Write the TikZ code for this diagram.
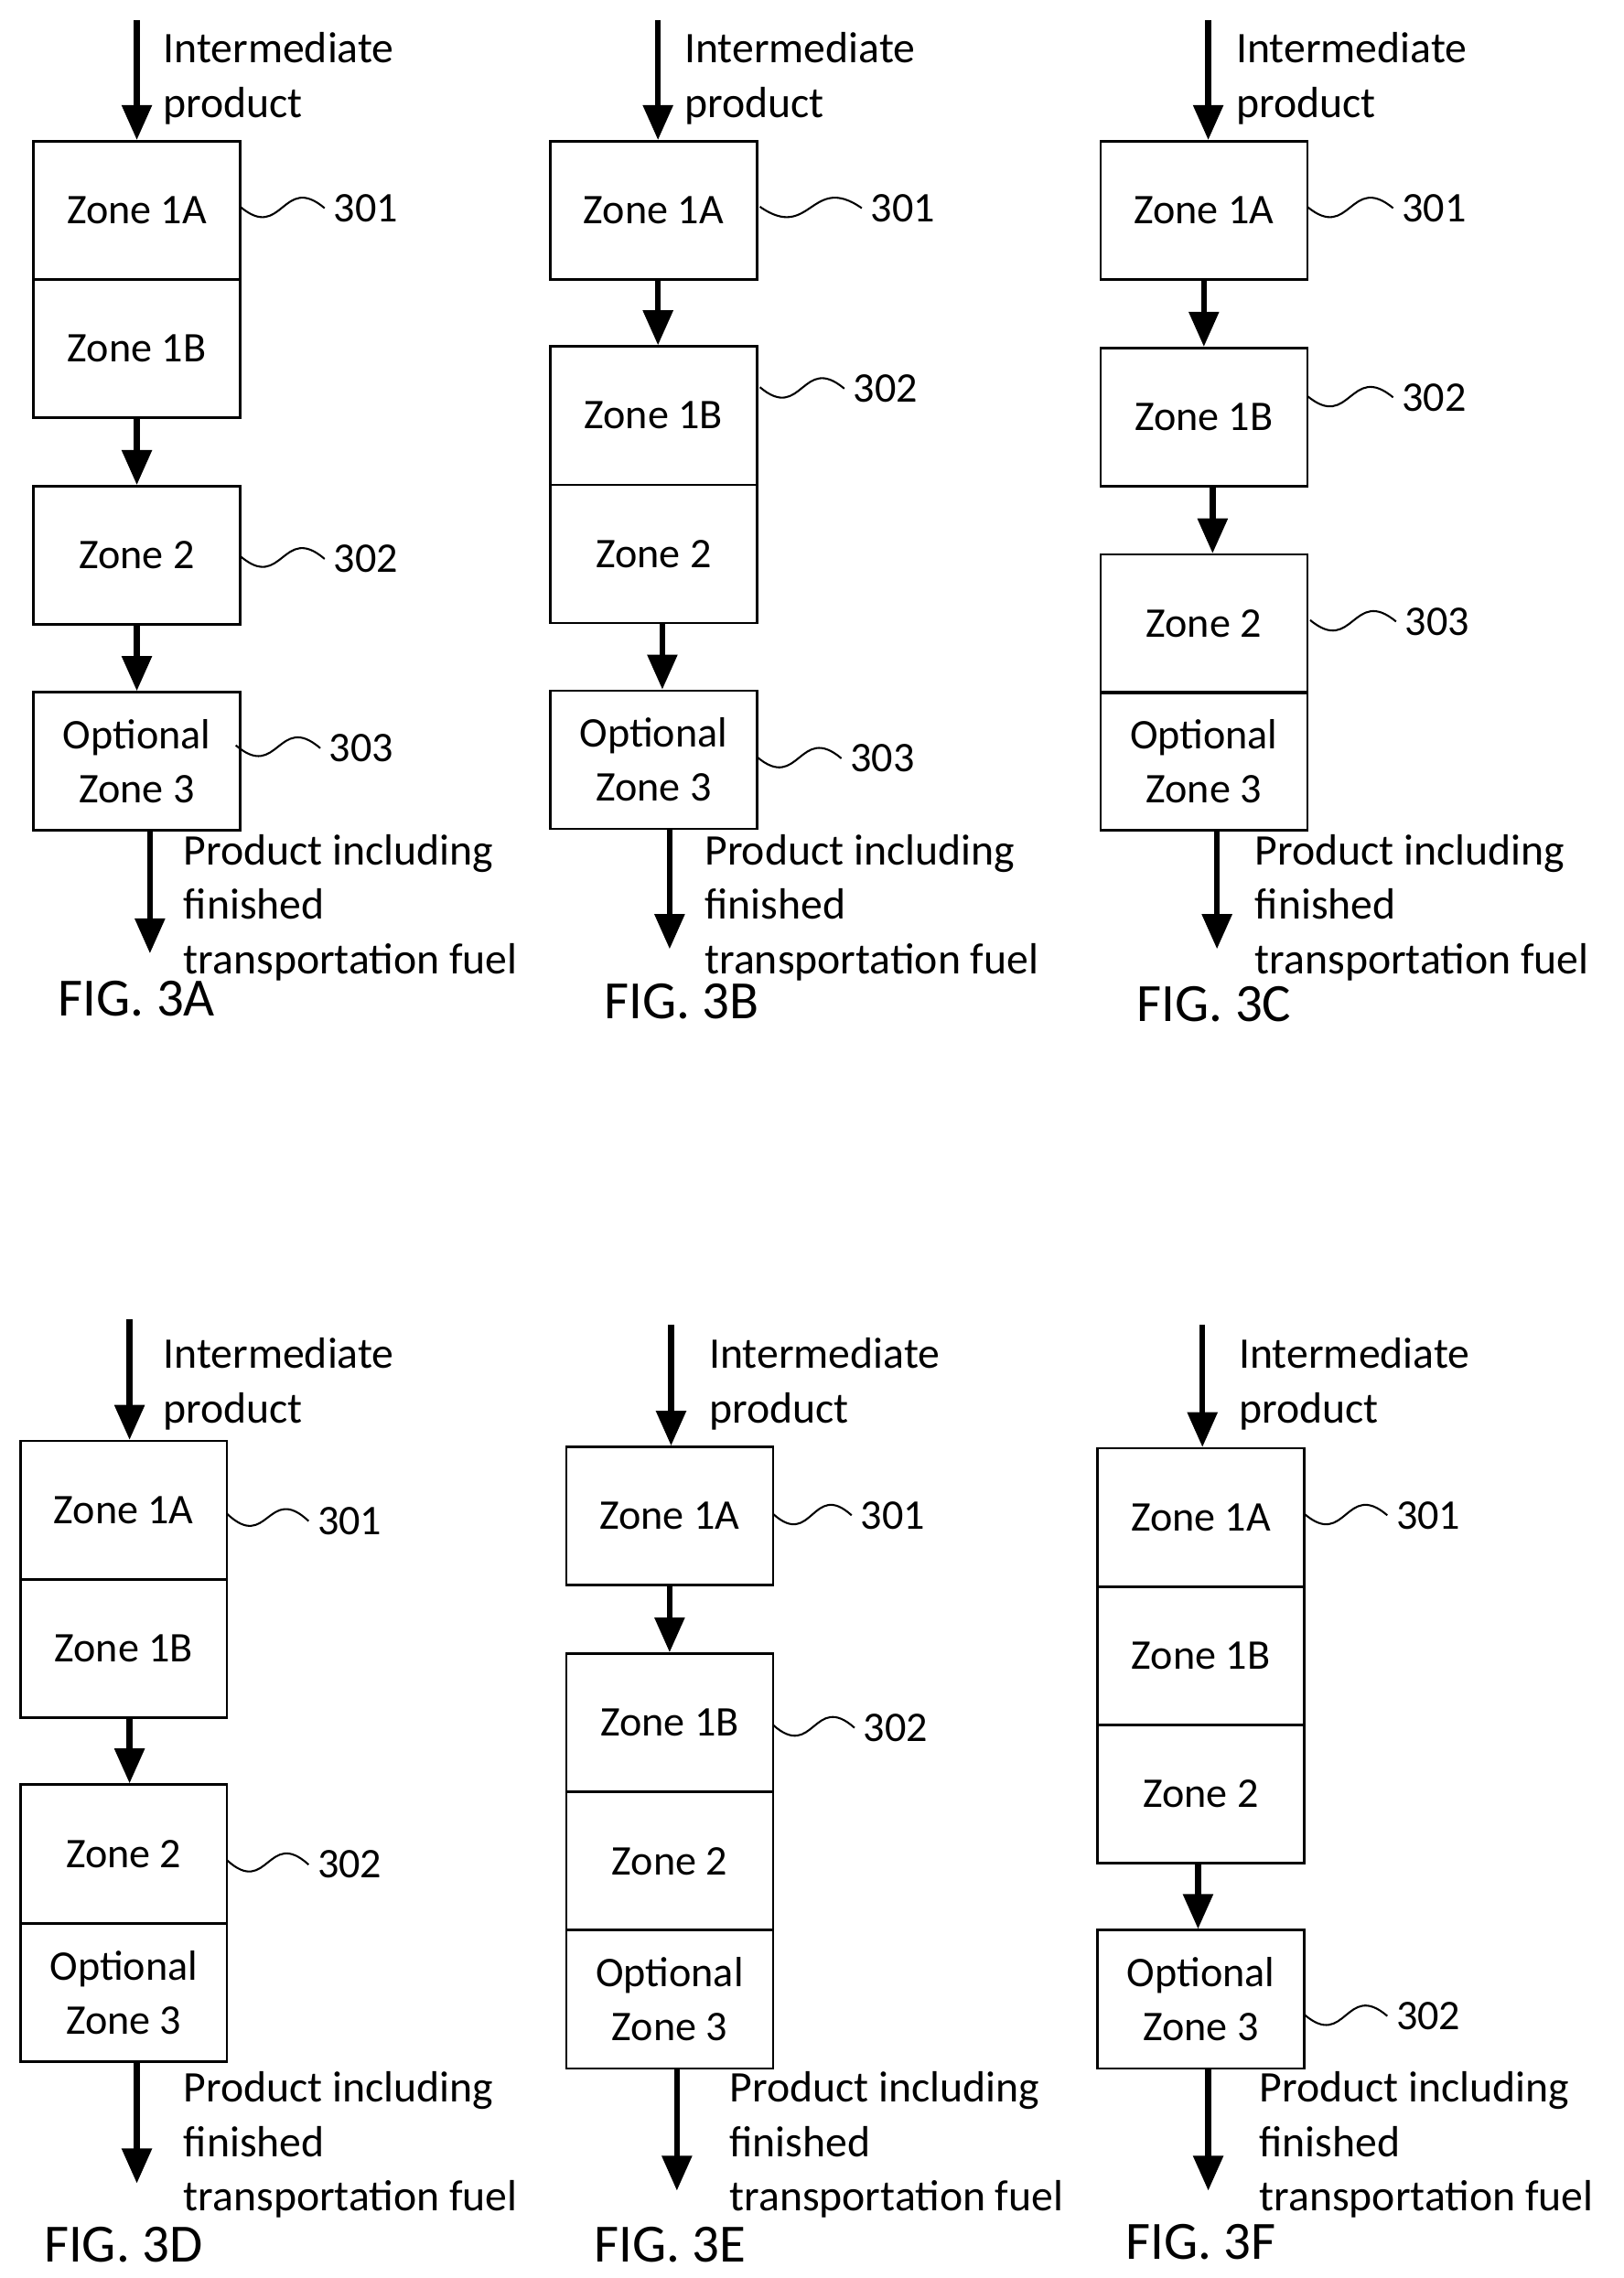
\documentclass[tikz,border=0pt]{standalone}
\usepackage{fontspec}
\setmainfont{Carlito}
\usetikzlibrary{arrows.meta,calc}
\begin{document}
\begin{tikzpicture}[x=1pt,y=-1pt,
 box/.style={draw,line width=1.6pt,minimum width=142pt,minimum height=95pt,inner sep=0pt,font=\fontsize{29}{37}\selectfont,align=center},
 flow/.style={line width=4pt,-{Triangle[length=24pt,width=20pt]}},
 txt/.style={anchor=base west,inner sep=0pt,font=\fontsize{30}{36}\selectfont},
 fig/.style={anchor=base west,inner sep=0pt,font=\fontsize{37}{44}\selectfont},
 lab/.style={anchor=west,inner sep=0pt,font=\fontsize{29}{34}\selectfont},
 wv/.style={line width=1.3pt}]
\useasboundingbox (0,0) rectangle (1115,1565);
\newcommand\wave[2]{\draw[wv] (#1) .. controls ($(#1)!0.5!([xshift=-6pt]#2.west)+(0,24)$) and ($(#1)!0.5!([xshift=-6pt]#2.west)+(0,-24)$) .. ([xshift=-6pt]#2.west);}
\newcommand\intext[3]{\node[txt] (#1a) at (#2,#3) {Intermediate};\node[txt] (#1b) at (#2,#3+37.5) {product};}
\newcommand\outtext[3]{\node[txt] (#1c) at (#2,#3) {Product including};\node[txt] (#1d) at (#2,#3+37.5) {finished};\node[txt] (#1e) at (#2,#3+75) {transportation fuel};}
% 3A
\coordinate (a0) at (94,14); \coordinate (a9) at (103,655);
\node[box] (a1) at (94,144.5) {Zone 1A};
\node[box] (a2) at (94,239.5) {Zone 1B};
\node[box] (a3) at (94,381.5) {Zone 2};
\node[box] (a4) at (94,523) {Optional\\Zone 3};
\draw[flow] (a0) -- (a1.north);
\draw[flow] (a2.south) -- (a3.north);
\draw[flow] (a3.south) -- (a4.north);
\draw[flow] (a4.south -| a9) -- (a9);
\intext{a}{112}{43}\outtext{a}{126}{594}
\node[fig] (af) at (40,698) {FIG. 3A};
\node[lab] (al1) at (229,143) {301};\node[lab] (al2) at (229,384) {302};\node[lab] (al3) at (226,514) {303};
\wave{165,142}{al1}\wave{165,382}{al2}\wave{162,512}{al3}
% 3B
\coordinate (b0) at (452,14); \coordinate (b9) at (460,652);
\node[box] (b1) at (449,144.5) {Zone 1A};
\node[box] (b2) at (449,285.5) {Zone 1B};
\node[box] (b3) at (449,380.5) {Zone 2};
\node[box] (b4) at (449,522) {Optional\\Zone 3};
\draw[flow] (b0) -- (b1.north -| b0);
\draw[flow] (b1.south -| b0) -- (b2.north -| b0);
\draw[flow] ([xshift=6pt]b3.south) -- ([xshift=6pt]b4.north);
\draw[flow] (b4.south -| b9) -- (b9);
\intext{b}{470}{43}\outtext{b}{484}{594}
\node[fig] (bf) at (415,700) {FIG. 3B};
\node[lab] (bl1) at (598,143) {301};\node[lab] (bl2) at (586,267) {302};\node[lab] (bl3) at (584,521) {303};
\wave{522,142}{bl1}\wave{522,266}{bl2}\wave{520,520}{bl3}
% 3C
\coordinate (c0) at (830,14); \coordinate (c9) at (836,652);
\node[box] (c1) at (827,144.5) {Zone 1A};
\node[box] (c2) at (827,286.5) {Zone 1B};
\node[box] (c3) at (827,428.5) {Zone 2};
\node[box] (c4) at (827,523) {Optional\\Zone 3};
\draw[flow] (c0) -- (c1.north -| c0);
\draw[flow] (c1.south) -- (c2.north);
\draw[flow] ([xshift=6pt]c2.south) -- ([xshift=6pt]c3.north);
\draw[flow] (c4.south -| c9) -- (c9);
\intext{c}{849}{43}\outtext{c}{862}{594}
\node[fig] (cf) at (781,702) {FIG. 3C};
\node[lab] (cl1) at (963,143) {301};\node[lab] (cl2) at (963,273) {302};\node[lab] (cl3) at (965,427) {303};
\wave{898,142}{cl1}\wave{898,272}{cl2}\wave{900,426}{cl3}
% 3D
\coordinate (d0) at (89,906); \coordinate (d9) at (94,1500);
\node[box] (d1) at (85,1037.5) {Zone 1A};
\node[box] (d2) at (85,1132.5) {Zone 1B};
\node[box] (d3) at (85,1273.5) {Zone 2};
\node[box] (d4) at (85,1369) {Optional\\Zone 3};
\draw[flow] (d0) -- (d1.north -| d0);
\draw[flow] (d2.south -| d0) -- (d3.north -| d0);
\draw[flow] (d4.south -| d9) -- (d9);
\intext{d}{112}{940}\outtext{d}{126}{1444}
\node[fig] (df) at (30,1554) {FIG. 3D};
\node[lab] (dl1) at (218,1045) {301};\node[lab] (dl2) at (218,1281) {302};
\wave{156,1040}{dl1}\wave{156,1278}{dl2}
% 3E
\coordinate (e0) at (461,910); \coordinate (e9) at (465,1505);
\node[box] (e1) at (460,1041.5) {Zone 1A};
\node[box] (e2) at (460,1183.5) {Zone 1B};
\node[box] (e3) at (460,1278.5) {Zone 2};
\node[box] (e4) at (460,1373.5) {Optional\\Zone 3};
\draw[flow] (e0) -- (e1.north -| e0);
\draw[flow] (e1.south) -- (e2.north);
\draw[flow] (e4.south -| e9) -- (e9);
\intext{e}{487}{940}\outtext{e}{501}{1444}
\node[fig] (ef) at (408,1554) {FIG. 3E};
\node[lab] (el1) at (591,1041) {301};\node[lab] (el2) at (593,1187) {302};
\wave{531,1040}{el1}\wave{531,1185}{el2}
% 3F
\coordinate (f0) at (826,910); \coordinate (f9) at (830,1505);
\node[box] (f1) at (825,1042.5) {Zone 1A};
\node[box] (f2) at (825,1137.5) {Zone 1B};
\node[box] (f3) at (825,1232.5) {Zone 2};
\node[box] (f4) at (825,1373.5) {Optional\\Zone 3};
\draw[flow] (f0) -- (f1.north -| f0);
\draw[flow] ([xshift=-2pt]f3.south) -- ([xshift=-2pt]f4.north);
\draw[flow] (f4.south -| f9) -- (f9);
\intext{f}{851}{940}\outtext{f}{865}{1444}
\node[fig] (ff) at (773,1552) {FIG. 3F};
\node[lab] (fl1) at (959,1041) {301};\node[lab] (fl2) at (959,1385) {302};
\wave{896,1040}{fl1}\wave{896,1384}{fl2}
\end{tikzpicture}
\end{document}
